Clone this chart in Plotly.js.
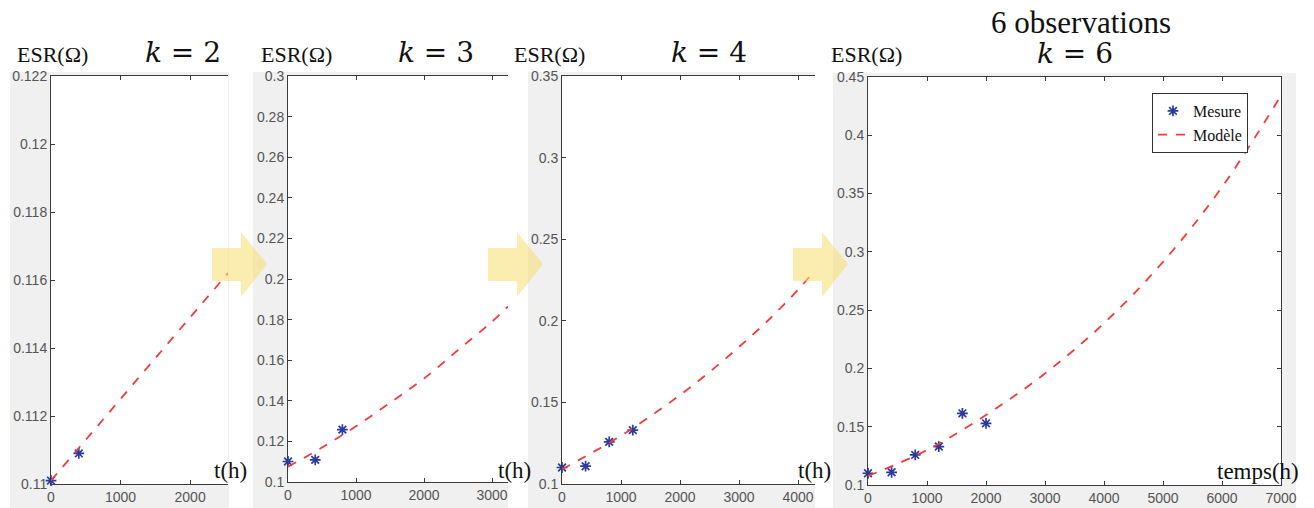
<!DOCTYPE html>
<html>
<head>
<meta charset="utf-8">
<script src="https://cdn.plot.ly/plotly-3.0.1.min.js"></script>
<style>html,body{margin:0;padding:0;background:#fff;}#chart{width:1314px;height:508px;}</style>
</head>
<body>
<div id="chart"></div>
<script>
// ---- data ----
const measT   = [0, 400, 800, 1200, 1600, 2000];
const measESR = [0.1101, 0.1109, 0.1258, 0.1330, 0.1615, 0.1529];

const modelT_k2 = [0, 500, 1000, 1500, 2000, 2545];
const modelV_k2 = [0.1101, 0.1113, 0.1125, 0.1137, 0.1149, 0.1162];

const modelT_k3 = [0, 500, 1000, 1500, 2000, 2500, 3000, 3235];
const modelV_k3 = [0.1075, 0.1170, 0.1275, 0.1390, 0.1510, 0.1650, 0.1790, 0.1865];

const modelT_k4 = [0, 500, 1000, 1500, 2000, 2500, 3000, 3500, 4000, 4288];
const modelV_k4 = [0.1090, 0.1190, 0.1296, 0.1416, 0.1545, 0.1686, 0.1840, 0.2005, 0.2190, 0.2310];

const modelT_k6 = [0, 1000, 2000, 3000, 4000, 5000, 6000, 7000];
const modelV_k6 = [0.1077, 0.1300, 0.1600, 0.1957, 0.2388, 0.2914, 0.3556, 0.4340];

const panelK = [2, 3, 4, 6];
const panelTitles = ["<i>k</i> = 2", "<i>k</i> = 3", "<i>k</i> = 4", "<i>k</i> = 6"];
const yLabel = "ESR(Ω)";
const xLabels = ["t(h)", "t(h)", "t(h)", "temps(h)"];
const topTitle = "6 observations";
const legendNames = ["Mesure", "Modèle"];

const yTicks1 = [0.11, 0.112, 0.114, 0.116, 0.118, 0.12, 0.122];
const yTickText1 = ["0.11", "0.112", "0.114", "0.116", "0.118", "0.12", "0.122"];
const yTicks2 = [0.1, 0.12, 0.14, 0.16, 0.18, 0.2, 0.22, 0.24, 0.26, 0.28, 0.3];
const yTickText2 = ["0.1", "0.12", "0.14", "0.16", "0.18", "0.2", "0.22", "0.24", "0.26", "0.28", "0.3"];
const yTicks3 = [0.1, 0.15, 0.2, 0.25, 0.3, 0.35];
const yTickText3 = ["0.1", "0.15", "0.2", "0.25", "0.3", "0.35"];
const yTicks4 = [0.1, 0.15, 0.2, 0.25, 0.3, 0.35, 0.4, 0.45];
const yTickText4 = ["0.1", "0.15", "0.2", "0.25", "0.3", "0.35", "0.4", "0.45"];
const xTicks1 = [0, 1000, 2000];
const xTicks2 = [0, 1000, 2000, 3000];
const xTicks3 = [0, 1000, 2000, 3000, 4000];
const xTicks4 = [0, 1000, 2000, 3000, 4000, 5000, 6000, 7000];

// ---- layout helpers ----
const W = 1314, H = 508;
const fx = p => p / W;
const fy = p => 1 - p / H;

const markerStyle = {symbol: 'asterisk-open', size: 9, color: '#2b3a9f', line: {color: '#2b3a9f', width: 1.7}};
const lineStyle = {color: '#f03c3c', width: 1.8, dash: 'dash', shape: 'spline'};

const models = [[modelT_k2, modelV_k2], [modelT_k3, modelV_k3], [modelT_k4, modelV_k4], [modelT_k6, modelV_k6]];
const traces = [];
panelK.forEach((k, i) => {
  const sfx = i === 0 ? '' : String(i + 1);
  traces.push({
    x: measT.slice(0, k), y: measESR.slice(0, k), type: 'scatter', mode: 'markers',
    xaxis: 'x' + sfx, yaxis: 'y' + sfx, marker: markerStyle, cliponaxis: false,
    name: legendNames[0], showlegend: i === 3
  });
  traces.push({
    x: models[i][0], y: models[i][1], type: 'scatter', mode: 'lines',
    xaxis: 'x' + sfx, yaxis: 'y' + sfx, line: lineStyle,
    name: legendNames[1], showlegend: i === 3
  });
});

const tickFont = {family: 'Liberation Sans Narrow, Arial Narrow, Liberation Sans, Arial', size: 14, color: '#555555'};
function xax(dom, range, ticks, anchor) {
  return {domain: [fx(dom[0]), fx(dom[1])], range: range, anchor: anchor,
    tickmode: 'array', tickvals: ticks, ticktext: ticks.map(String),
    showline: true, linecolor: '#3a3a3a', linewidth: 1, mirror: 'ticks',
    ticks: 'inside', ticklen: 4, tickcolor: '#3a3a3a', showgrid: false, zeroline: false,
    tickfont: tickFont, fixedrange: true};
}
function yax(dom, range, ticks, text, anchor, mirror) {
  return {domain: [fy(dom[1]), fy(dom[0])], range: range, anchor: anchor,
    tickmode: 'array', tickvals: ticks, ticktext: text,
    showline: true, linecolor: '#3a3a3a', linewidth: 1, mirror: mirror,
    ticks: 'inside', ticklen: 4, tickcolor: '#3a3a3a', showgrid: false, zeroline: false,
    tickfont: tickFont, fixedrange: true};
}

const gray = '#f0f0f0';
const rect = (x0, x1, y0, y1, c) => ({type: 'rect', xref: 'paper', yref: 'paper', x0: fx(x0), x1: fx(x1),
  y0: fy(y1), y1: fy(y0), fillcolor: c, line: {width: 0}, layer: 'below'});
const shapes = [
  rect(10, 229, 72, 508, gray), rect(253, 508, 72, 508, gray), rect(528, 815, 72, 508, gray), rect(833, 1296, 73, 508, gray),
  // white plotting areas
  rect(51, 228, 76, 484, '#ffffff'), rect(288, 508, 76, 482, '#ffffff'), rect(562, 815, 76, 484, '#ffffff'), rect(868, 1281, 77, 485, '#ffffff')
];
// yellow transition arrows
[212, 488, 793].forEach(x0 => {
  const s = x0 + 29, tip = x0 + 55;
  const pts = [[x0, 248], [s, 248], [s, 232], [tip, 264], [s, 297], [s, 281], [x0, 281]];
  const path = 'M ' + pts.map(p => fx(p[0]) + ',' + fy(p[1])).join(' L ') + ' Z';
  shapes.push({type: 'path', xref: 'paper', yref: 'paper', path: path,
    fillcolor: 'rgba(248,222,110,0.55)', line: {width: 0}, layer: 'above'});
});

const serif = 'Liberation Serif, Times New Roman, serif';
const mathFont = {family: 'DejaVu Serif, serif', size: 28, color: '#111'};
const ann = (x, y, text, font, xanchor) => ({xref: 'paper', yref: 'paper', x: fx(x), y: fy(y), text: text,
  showarrow: false, xanchor: xanchor || 'center', yanchor: 'middle', font: font});
const labFont = {family: serif, size: 22, color: '#111'};
const xlabFont = {family: serif, size: 23, color: '#111'};
const annotations = [
  ann(52, 54, yLabel, labFont), ann(296, 54, yLabel, labFont), ann(549, 54, yLabel, labFont), ann(866, 54, yLabel, labFont),
  ann(183, 52, panelTitles[0], mathFont), ann(436, 52, panelTitles[1], mathFont), ann(709, 52, panelTitles[2], mathFont), ann(1075, 53, panelTitles[3], mathFont),
  ann(1081, 22, topTitle, {family: serif, size: 31, color: '#111'}),
  ann(230, 470, xLabels[0], xlabFont), ann(514, 470, xLabels[1], xlabFont), ann(814, 470, xLabels[2], xlabFont), ann(1258, 471, xLabels[3], xlabFont)
];

const layout = {
  width: W, height: H, margin: {l: 0, r: 0, t: 0, b: 0},
  paper_bgcolor: '#ffffff', plot_bgcolor: '#ffffff',
  xaxis: xax([51, 228], [0, 2545], xTicks1, 'y'),
  yaxis: yax([76, 484], [0.11, 0.122], yTicks1, yTickText1, 'x', false),
  xaxis2: xax([288, 508], [0, 3235], xTicks2, 'y2'),
  yaxis2: yax([76, 482], [0.1, 0.3], yTicks2, yTickText2, 'x2', false),
  xaxis3: xax([562, 815], [0, 4288], xTicks3, 'y3'),
  yaxis3: yax([76, 484], [0.1, 0.35], yTicks3, yTickText3, 'x3', false),
  xaxis4: xax([868, 1281], [0, 7000], xTicks4, 'y4'),
  yaxis4: yax([77, 485], [0.1, 0.45], yTicks4, yTickText4, 'x4', 'ticks'),
  showlegend: true,
  legend: {x: fx(1152), y: fy(93), xanchor: 'left', yanchor: 'top', bgcolor: '#ffffff',
    bordercolor: '#333333', borderwidth: 1, font: {family: serif, size: 16, color: '#111'},
    itemwidth: 30, tracegroupgap: 0},
  shapes: shapes,
  annotations: annotations
};

Plotly.newPlot('chart', traces, layout, {staticPlot: true, displayModeBar: false});
</script>
</body>
</html>
